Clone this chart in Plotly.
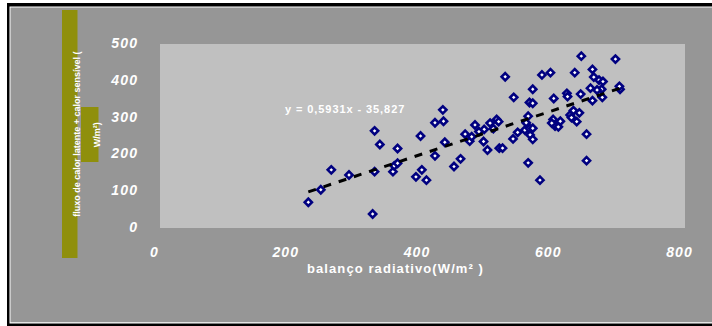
import plotly.graph_objects as go

# balanço radiativo (W/m²) vs. flux (W/m²)
x_rad = [226, 245, 261, 288, 327, 335, 327, 324, 362, 355, 357, 362, 397, 390, 399, 406,
         419, 419, 432, 431, 434, 448, 458, 465, 472, 480, 494, 493, 499, 503, 513, 516,
         517, 522, 526, 539, 538, 556, 558, 561, 563, 568, 568, 563, 568, 564, 568, 561,
         579, 582, 595, 599, 600, 602, 607, 620, 621, 625, 630, 632, 635, 639, 641, 642,
         650, 650, 656, 659, 659, 661, 669, 675, 673, 674, 694, 701,
         486, 508, 545, 597, 627, 610, 475, 666, 700]
y_flux = [70, 104, 158, 144, 264, 227, 153, 38, 216, 153, 169, 176, 250, 139, 158, 130,
          196, 286, 290, 321, 233, 167, 188, 255, 236, 280, 268, 235, 212, 285, 295, 289,
          217, 217, 411, 355, 242, 266, 286, 304, 341, 339, 377, 271, 271, 253, 241, 177,
          130, 416, 422, 295, 352, 277, 275, 366, 357, 307, 319, 422, 289, 313, 364, 467,
          255, 183, 380, 346, 431, 410, 402, 398, 377, 355, 459, 377,
          262, 270, 260, 285, 300, 290, 248, 375, 385]

# linear trend: y = 0,5931x - 35,827
slope = 0.5931
intercept = -35.827
eq_label = "y = 0,5931x - 35,827"

x_ticks = [0, 200, 400, 600, 800]
y_ticks = [0, 100, 200, 300, 400, 500]

x_title = "balanço radiativo(W/m² )"
y_title = "fluxo de calor latente + calor sensível ("
y_title_tail = "W/m²)"

W, H = 712, 326
L, R, T, B = 160, 685, 44, 228  # plot-area pixel edges


def fx(px):
    return (px - L) / (R - L)


def fy(py):
    return (B - py) / (B - T)


def spaced(s, sep="\u200a"):
    return sep.join(s)


def tick_label(v):
    return "<b><i>" + spaced(str(v)) + "</i></b>"


x_line = [min(x_rad), max(x_rad)]
y_line = [slope * v + intercept for v in x_line]

fig = go.Figure()
fig.add_trace(go.Scatter(
    x=x_rad, y=y_flux, mode="markers",
    marker=dict(symbol="diamond", size=5.5, color="white",
                line=dict(width=2.6, color="#000080")),
    showlegend=False, hoverinfo="skip"))
fig.add_trace(go.Scatter(
    x=x_line, y=y_line, mode="lines",
    line=dict(color="black", width=3, dash="8px,8px"),
    showlegend=False, hoverinfo="skip"))

shapes = [
    # outer frame
    dict(type="rect", xref="paper", yref="paper", x0=fx(7), x1=fx(716), y0=fy(3), y1=fy(327),
         fillcolor="black", line_width=0, layer="below"),
    dict(type="rect", xref="paper", yref="paper", x0=fx(9.5), x1=fx(716), y0=fy(6.5), y1=fy(323.5),
         fillcolor="white", line_width=0, layer="below"),
    dict(type="rect", xref="paper", yref="paper", x0=fx(10.5), x1=fx(716), y0=fy(7.5), y1=fy(322.3),
         fillcolor="#969696", line_width=0, layer="below"),
    # plot area
    dict(type="rect", xref="paper", yref="paper", x0=0, x1=1, y0=0, y1=1,
         fillcolor="#C0C0C0", line_width=0, layer="below"),
    # y-title boxes
    dict(type="rect", xref="paper", yref="paper", x0=fx(62), x1=fx(77.5), y0=fy(10), y1=fy(258),
         fillcolor="#8F8F0C", line_width=0, layer="below"),
    dict(type="rect", xref="paper", yref="paper", x0=fx(81), x1=fx(98.5), y0=fy(107), y1=fy(162),
         fillcolor="#8F8F0C", line_width=0, layer="below"),
]

tick_font = dict(family="Liberation Sans, Arial", size=14, color="white")

annotations = [
    dict(text="<b>" + spaced(eq_label) + "</b>", x=fx(344.5), y=fy(101),
         xref="paper", yref="paper", showarrow=False,
         font=dict(family="Liberation Sans, Arial", size=11, color="white")),
    dict(text="<b>" + spaced(x_title) + "</b>", x=fx(395), y=fy(277.5),
         xref="paper", yref="paper", showarrow=False,
         font=dict(family="Liberation Sans, Arial", size=13, color="white")),
    dict(text="<b>" + y_title + "</b>", x=fx(69.8), y=fy(134), xref="paper", yref="paper",
         textangle=-90, showarrow=False,
         font=dict(family="Liberation Sans, Arial", size=9, color="white")),
    dict(text="<b>" + y_title_tail + "</b>", x=fx(89.8), y=fy(134.5), xref="paper", yref="paper",
         textangle=-90, showarrow=False,
         font=dict(family="Liberation Sans, Arial", size=9, color="white")),
]

fig.update_layout(
    width=W, height=H,
    margin=dict(l=L, r=W - R, t=T, b=H - B, pad=0),
    paper_bgcolor="white", plot_bgcolor="rgba(0,0,0,0)",
    shapes=shapes, annotations=annotations,
    xaxis=dict(range=[0, 800], tickvals=x_ticks,
               ticktext=[tick_label(v) for v in x_ticks],
               showgrid=False, zeroline=False, showline=False, ticks="",
               tickfont=tick_font, ticklabelstandoff=14, ticklabelshift=-6,
               fixedrange=True),
    yaxis=dict(range=[0, 500], tickvals=y_ticks,
               ticktext=[tick_label(v) for v in y_ticks],
               showgrid=False, zeroline=False, showline=False, ticks="",
               tickfont=tick_font, ticklabelstandoff=22, ticklabelshift=-1,
               fixedrange=True),
)

fig.write_html("out.html", config={"displayModeBar": False})
